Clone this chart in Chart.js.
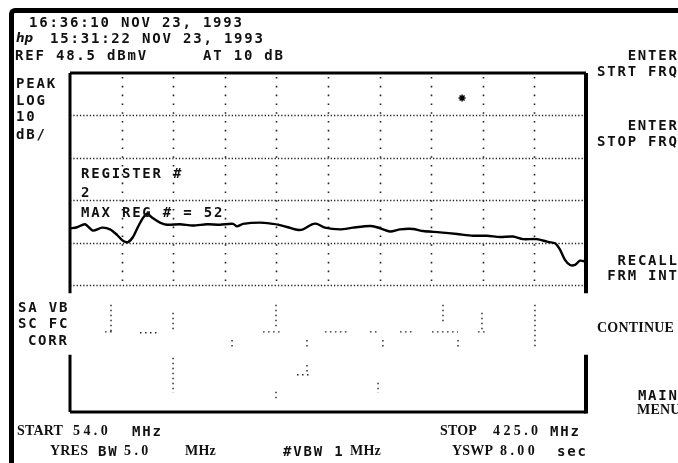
<!DOCTYPE html>
<html>
<head>
<meta charset="utf-8">
<script src="https://cdn.jsdelivr.net/npm/chart.js@4.4.1/dist/chart.umd.min.js"></script>
<style>
  html, body { margin: 0; padding: 0; background: #fff; }
  #wrap { position: relative; width: 678px; height: 463px; overflow: hidden; }
  #scope { position: absolute; left: 0; top: 0; }
  #frame { position: absolute; left: 9px; top: 8px; width: 680px; height: 460px;
           border-top: 5px solid #000; border-left: 5px solid #000; border-top-left-radius: 6px; }
  .t { position: absolute; white-space: pre; line-height: 1; color: #111; }
  .m { font-family: "DejaVu Sans Mono", monospace; font-weight: bold; font-size: 14px; letter-spacing: 1.8px; }
  .s { font-family: "Liberation Serif", serif; font-weight: bold; font-size: 14px; letter-spacing: 0.2px; }
  .n { font-family: "Liberation Serif", serif; font-weight: bold; font-size: 14px; letter-spacing: 3.4px; }
  .logo { font-family: "DejaVu Sans", sans-serif; font-style: italic; font-weight: bold; font-size: 12px; }
</style>
</head>
<body>
<div id="wrap">
  <canvas id="scope" width="678" height="463"></canvas>
  <div id="frame"></div>
</div>
<script>
// sweep settings
const startFreq = 54.0;   // MHz
const stopFreq = 425.0;   // MHz
const refLevel = 48.5;    // dBmV
const dbPerDiv = 10;
const vDivs = 8;
const hDivs = 10;

// trace (MHz, dBmV)
const freq = [54.0, 59.0, 64.8, 70.5, 77.0, 82.8, 87.8, 92.1, 95.7, 99.3,
  102.9, 106.5, 109.4, 113.7, 118.7, 123.7, 133.1, 142.4, 152.5, 161.9,
  171.2, 174.1, 178.4, 190.6, 200.0, 203.6, 210.7, 217.2, 221.5, 228.0,
  231.6, 237.3, 248.1, 257.5, 269.7, 274.7, 284.1, 291.3, 300.6, 307.8,
  320.0, 332.3, 343.8, 353.8, 363.2, 372.5, 379.7, 389.8, 397.0, 402.7,
  406.3, 409.9, 413.5, 417.1, 420.7, 425.0];
const level = [11.8, 12.1, 12.8, 11.3, 12.0, 11.6, 10.3, 8.9, 8.6, 9.8,
  12.2, 14.3, 15.3, 14.2, 13.2, 12.7, 12.8, 12.5, 12.8, 12.7,
  12.9, 12.3, 12.9, 13.2, 12.9, 12.7, 12.1, 11.5, 11.6, 12.8,
  12.9, 12.0, 11.6, 12.0, 12.4, 12.1, 11.1, 11.6, 11.7, 11.2,
  10.9, 10.5, 10.1, 10.1, 9.8, 9.9, 9.3, 9.3, 8.7, 8.3,
  6.8, 4.4, 3.2, 3.2, 4.2, 4.0];

// broken graticule bits in the lower part (null = gap)
const lowFreq = [83.5, 83.5, 83.5, 79.2, 86.4, 86.4, 104.3, 117.3, 117.3,
  128.1, 128.1, 128.1, 128.1, 128.1, 128.1, 170.5, 170.5, 170.5,
  202.1, 202.1, 202.1, 192.8, 205.0, 205.0, 202.1, 202.1, 202.1,
  224.4, 224.4, 224.4, 224.4, 224.4, 224.4, 217.2, 228.0, 228.0,
  237.3, 253.2, 253.2, 269.7, 276.9, 276.9, 279.0, 279.0, 279.0,
  291.3, 299.9, 299.9, 275.5, 275.5, 275.5, 314.3, 333.0, 333.0,
  322.2, 322.2, 322.2, 333.0, 333.0, 333.0, 350.2, 350.2, 350.2,
  347.4, 354.5, 354.5, 388.3, 388.3];
const lowLevel = [-6.2, -12.6, null, -12.6, -12.6, null, -12.8, -12.8, null,
  -8.1, -12.8, null, -18.7, -27.0, null, -14.5, -16.8, null,
  -6.2, -12.1, null, -12.6, -12.6, null, -26.7, -28.6, null,
  -14.5, -16.8, null, -20.4, -22.7, null, -22.7, -22.7, null,
  -12.6, -12.6, null, -12.6, -12.6, null, -14.5, -16.8, null,
  -12.6, -12.6, null, -24.6, -27.0, null, -12.6, -12.6, null,
  -6.2, -10.2, null, -14.5, -16.8, null, -8.1, -12.1, null,
  -12.6, -12.6, null, -6.2, -16.8];

// marker "*"
const markerFreq = [335.9];
const markerLevel = [42.6];

// screen annotations: text, x, cap top, style, align
const labels = [
  ["16:36:10 NOV 23, 1993", 29, 17, "m"],
  ["15:31:22 NOV 23, 1993", 50, 33, "m"],
  ["REF 48.5 dBmV", 15, 50, "m"],
  ["AT 10 dB", 203, 50, "m"],
  ["PEAK", 16, 78, "m"],
  ["LOG", 16, 95, "m"],
  ["10", 16, 111, "m"],
  ["dB/", 16, 129, "m"],
  ["REGISTER #", 81, 168, "m"],
  ["2", 81, 187, "m"],
  ["MAX REG # = 52", 81, 207, "m"],
  ["SA VB", 18, 302, "m"],
  ["SC FC", 18, 318, "m"],
  ["CORR", 67, 335, "m", "r"],
  ["START", 17, 426, "s"],
  ["54.0", 73, 426, "n"],
  ["MHz", 132, 426, "m"],
  ["YRES", 50, 446, "s"],
  ["BW", 98, 446, "m"],
  ["5.0", 124, 446, "n"],
  ["MHz", 185, 446, "s"],
  ["#VBW 1", 283, 446, "m"],
  ["MHz", 350, 446, "s"],
  ["STOP", 440, 426, "s"],
  ["425.0", 493, 426, "n"],
  ["MHz", 550, 426, "m"],
  ["YSWP", 452, 446, "s"],
  ["8.00", 500, 446, "n"],
  ["sec", 557, 446, "m"],
  ["ENTER", 677, 50, "m", "r"],
  ["STRT FRQ", 677, 66, "m", "r"],
  ["ENTER", 677, 120, "m", "r"],
  ["STOP FRQ", 677, 136, "m", "r"],
  ["RECALL", 677, 255, "m", "r"],
  ["FRM INT", 677, 270, "m", "r"],
  ["CONTINUE", 597, 323, "s"],
  ["MAIN", 677, 390, "m", "r"],
  ["MENU", 637, 405, "s"]
];

const wrap = document.getElementById("wrap");
labels.forEach(([text, x, top, cls, align]) => {
  const d = document.createElement("div");
  d.className = "t " + cls;
  d.textContent = text;
  d.style.top = (top - (cls === "m" ? 1.6 : 2.4)) + "px";
  if (align === "r") d.style.right = (678 - x - (cls === "m" ? 1.8 : 0)) + "px";
  else d.style.left = x + "px";
  wrap.appendChild(d);
});
const logo = document.createElement("div");
logo.className = "t logo";
logo.textContent = "hp";
logo.style.left = "16px";
logo.style.top = "32px";
wrap.appendChild(logo);

const graticule = {
  id: "graticule",
  beforeDatasetsDraw(chart) {
    const { ctx, chartArea: a, scales: { x, y } } = chart;
    const upperEnd = refLevel - 5 * dbPerDiv;
    ctx.save();
    ctx.strokeStyle = "#222";

    ctx.lineWidth = 1.3;
    ctx.setLineDash([1.3, 2]);
    for (let k = 1; k <= 5; k++) {
      const py = Math.round(y.getPixelForValue(refLevel - k * dbPerDiv)) + 0.5;
      ctx.beginPath();
      ctx.moveTo(a.left, py);
      ctx.lineTo(a.right, py);
      ctx.stroke();
    }

    ctx.lineWidth = 1.6;
    ctx.setLineDash([1.6, 7.2]);
    for (let k = 1; k < hDivs; k++) {
      const px = Math.round(x.getPixelForValue(startFreq + k * (stopFreq - startFreq) / hDivs)) + 0.5;
      ctx.beginPath();
      ctx.moveTo(px, a.top + 4);
      ctx.lineTo(px, y.getPixelForValue(upperEnd));
      ctx.stroke();
    }

    // box, open on both sides next to the lower labels
    const gapTop = y.getPixelForValue(-3.5);
    const gapBot = y.getPixelForValue(-18);
    ctx.setLineDash([]);
    ctx.strokeStyle = "#000";
    ctx.lineWidth = 3;
    ctx.beginPath();
    ctx.moveTo(a.left, a.top); ctx.lineTo(a.right, a.top);
    ctx.moveTo(a.left, a.bottom); ctx.lineTo(a.right, a.bottom);
    ctx.moveTo(a.left, a.top); ctx.lineTo(a.left, gapTop);
    ctx.moveTo(a.left, gapBot); ctx.lineTo(a.left, a.bottom);
    ctx.stroke();
    ctx.lineWidth = 4;
    ctx.beginPath();
    ctx.moveTo(a.right, a.top); ctx.lineTo(a.right, gapTop);
    ctx.moveTo(a.right, gapBot); ctx.lineTo(a.right, a.bottom + 1.5);
    ctx.stroke();
    ctx.restore();
  }
};

new Chart(document.getElementById("scope"), {
  type: "line",
  data: {
    datasets: [
      {
        data: freq.map((f, i) => ({ x: f, y: level[i] })),
        borderColor: "#000",
        borderWidth: 2.4,
        pointRadius: 0,
        tension: 0.25
      },
      {
        data: lowFreq.map((f, i) => ({ x: f, y: lowLevel[i] })),
        borderColor: "#222",
        borderWidth: 1.4,
        borderDash: [1.5, 3.5],
        pointRadius: 0,
        spanGaps: false
      },
      {
        type: "scatter",
        data: markerFreq.map((f, i) => ({ x: f, y: markerLevel[i] })),
        pointStyle: "star",
        pointRadius: 3.5,
        borderColor: "#000",
        borderWidth: 1.5
      }
    ]
  },
  options: {
    responsive: false,
    animation: false,
    layout: { padding: { left: 70, right: 92, top: 73, bottom: 51 } },
    plugins: { legend: { display: false }, tooltip: { enabled: false } },
    scales: {
      x: { type: "linear", min: startFreq, max: stopFreq, display: false },
      y: { min: refLevel - vDivs * dbPerDiv, max: refLevel, display: false }
    }
  },
  plugins: [graticule]
});
</script>
</body>
</html>
